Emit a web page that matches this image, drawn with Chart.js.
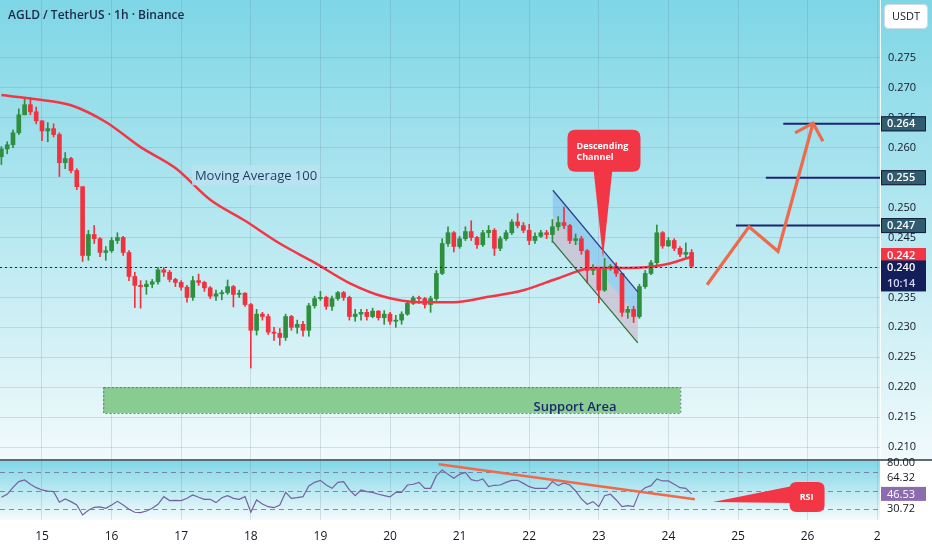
<!DOCTYPE html>
<html>
<head>
<meta charset="utf-8">
<script src="https://cdn.jsdelivr.net/npm/chart.js@4.4.1/dist/chart.umd.min.js"></script>
<style>
  html, body { margin: 0; padding: 0; background: #fff; }
  canvas { display: block; }
</style>
</head>
<body>
<canvas id="agldChart" width="932" height="550"></canvas>
<script>
// AGLD / USDT 1h, drawn as 2h candles
const firstCandleDay = 14 + 10 / 24;   // 14th, 10:00
const candleStep = 2 / 24;             // 2 hours
const firstOpen = 0.2585;

const closes = [
  0.2598,0.2605,0.2625,0.2655,0.2672,0.2660,0.2645,0.2628,0.2632,0.2622,
  0.2575,0.2582,0.2562,0.2535,0.2420,0.2455,0.2448,0.2425,0.2428,0.2445,
  0.2450,0.2425,0.2385,0.2370,0.2368,0.2372,0.2376,0.2396,0.2392,0.2380,
  0.2375,0.2367,0.2350,0.2378,0.2375,0.2366,0.2352,0.2356,0.2358,0.2368,
  0.2355,0.2357,0.2338,0.2295,0.2322,0.2318,0.2292,0.2290,0.2283,0.2318,
  0.2300,0.2305,0.2295,0.2336,0.2348,0.2350,0.2335,0.2348,0.2358,0.2350,
  0.2318,0.2322,0.2325,0.2318,0.2327,0.2316,0.2322,0.2310,0.2312,0.2322,
  0.2340,0.2349,0.2348,0.2338,0.2348,0.2390,0.2440,0.2458,0.2435,0.2448,
  0.2460,0.2450,0.2438,0.2458,0.2462,0.2432,0.2448,0.2458,0.2476,0.2470,
  0.2462,0.2445,0.2452,0.2458,0.2455,0.2468,0.2475,0.2470,0.2445,0.2448,
  0.2428,0.2395,0.2398,0.2362,0.2400,0.2402,0.2390,0.2325,0.2330,0.2318,
  0.2368,0.2390,0.2408,0.2458,0.2436,0.2445,0.2432,0.2422,0.2425,0.2402
];
const highs = [
  0.2602,0.2610,0.2630,0.2665,0.2683,0.2684,0.2668,0.2645,0.2642,0.2640,
  0.2625,0.2592,0.2584,0.2565,0.2535,0.2462,0.2470,0.2450,0.2435,0.2450,
  0.2458,0.2452,0.2428,0.2392,0.2378,0.2378,0.2380,0.2400,0.2400,0.2395,
  0.2382,0.2378,0.2370,0.2385,0.2389,0.2377,0.2368,0.2362,0.2362,0.2379,
  0.2370,0.2362,0.2358,0.2340,0.2330,0.2325,0.2322,0.2300,0.2298,0.2322,
  0.2320,0.2312,0.2310,0.2340,0.2352,0.2360,0.2352,0.2352,0.2360,0.2360,
  0.2352,0.2330,0.2330,0.2330,0.2332,0.2328,0.2328,0.2325,0.2320,0.2326,
  0.2345,0.2352,0.2352,0.2350,0.2352,0.2395,0.2448,0.2468,0.2460,0.2452,
  0.2468,0.2478,0.2452,0.2462,0.2470,0.2465,0.2452,0.2462,0.2480,0.2490,
  0.2475,0.2472,0.2458,0.2462,0.2462,0.2480,0.2485,0.2501,0.2472,0.2456,
  0.2452,0.2430,0.2405,0.2400,0.2415,0.2405,0.2408,0.2390,0.2335,0.2335,
  0.2372,0.2395,0.2412,0.2471,0.2460,0.2450,0.2448,0.2435,0.2441,0.2430
];
const lows = [
  0.2572,0.2590,0.2600,0.2622,0.2655,0.2655,0.2640,0.2612,0.2610,0.2618,
  0.2552,0.2565,0.2558,0.2530,0.2410,0.2412,0.2440,0.2418,0.2412,0.2425,
  0.2440,0.2420,0.2378,0.2333,0.2332,0.2355,0.2366,0.2372,0.2385,0.2376,
  0.2368,0.2362,0.2342,0.2345,0.2370,0.2360,0.2348,0.2345,0.2346,0.2355,
  0.2334,0.2350,0.2335,0.2232,0.2287,0.2312,0.2288,0.2278,0.2270,0.2278,
  0.2295,0.2290,0.2285,0.2285,0.2332,0.2345,0.2330,0.2328,0.2345,0.2345,
  0.2312,0.2310,0.2312,0.2312,0.2316,0.2312,0.2305,0.2305,0.2300,0.2305,
  0.2320,0.2338,0.2340,0.2332,0.2325,0.2345,0.2388,0.2435,0.2426,0.2432,
  0.2445,0.2445,0.2432,0.2435,0.2450,0.2420,0.2428,0.2445,0.2455,0.2466,
  0.2458,0.2438,0.2440,0.2450,0.2448,0.2442,0.2462,0.2465,0.2440,0.2438,
  0.2422,0.2374,0.2388,0.2341,0.2360,0.2395,0.2385,0.2318,0.2315,0.2308,
  0.2315,0.2365,0.2388,0.2400,0.2432,0.2435,0.2428,0.2418,0.2415,0.2400
];

// moving average 100
const maDays = [14.417,14.917,15.417,15.917,16.417,16.917,17.417,17.917,18.417,18.917,
  19.417,19.917,20.417,20.917,21.417,21.917,22.417,22.917,23.417,23.917,24.333];
const maValues = [0.2688,0.2681,0.2671,0.2643,0.2601,0.2566,0.2513,0.2478,0.2440,0.2408,
  0.2374,0.2351,0.2342,0.2342,0.2351,0.2362,0.2382,0.2399,0.2399,0.2404,0.2418];

// RSI, one value per candle
const rsiValues = [
  42.8,46.1,53.7,59.9,61.7,57.0,53.3,50.8,49.7,49.0,
  37.4,41.0,38.1,34.5,23.6,28.6,31.9,32.3,30.8,34.5,
  38.4,34.5,29.7,26.5,26.1,27.9,30.8,35.2,43.5,39.2,
  39.5,39.2,41.7,45.3,42.8,40.6,40.6,37.0,42.4,44.6,
  41.7,40.6,43.5,26.5,39.9,35.5,32.6,31.5,34.4,48.2,
  41.7,42.4,43.5,55.1,59.1,61.3,56.2,52.6,59.1,59.9,
  50.8,44.6,50.8,49.0,48.2,46.1,44.6,43.2,48.2,48.2,
  56.2,57.0,59.1,52.6,52.6,66.4,72.6,67.8,63.5,67.8,
  70.0,62.0,60.6,62.8,54.4,55.9,56.2,59.1,61.3,61.3,
  58.0,54.4,52.6,52.6,52.6,59.9,55.5,58.4,56.2,49.7,
  41.0,35.2,38.1,32.6,44.6,46.1,39.9,32.6,33.7,32.6,
  48.2,53.3,55.5,62.8,60.6,60.6,57.0,53.3,52.6,46.5
];
const rsiTrendDays = [20.70, 24.38];
const rsiTrendValues = [78.8, 40.6];
const rsiBands = [70, 50, 30];
const rsiAxisLabels = [80.00, 64.32, 46.53, 30.72];

// axes
const dayTicks = [15,16,17,18,19,20,21,22,23,24,25,26,27];
const dayTickLabels = ['15','16','17','18','19','20','21','22','23','24','25','26','2'];
const priceTicks = [0.210,0.215,0.220,0.225,0.230,0.235,0.240,0.245,0.250,0.255,0.260,0.265,0.270,0.275];
const lastPrice = 0.240;
const lastMa = 0.242;
const countdown = '10:14';

// drawings
const targetPrices = [0.264, 0.255, 0.247];
const targetStartDays = [25.65, 25.40, 24.97];
const projectionDays = [24.555, 25.158, 25.575, 26.078];
const projectionPrices = [0.2371, 0.2468, 0.2427, 0.2641];
const arrowHeadDays = [25.82, 26.22];
const arrowHeadPrices = [0.2625, 0.2611];
const channelDays = [22.34, 23.56];
const channelTop = [0.2529, 0.2359];
const channelBottom = [0.2443, 0.2274];
const supportDays = [15.88, 24.17];
const supportPrices = [0.2157, 0.2200];

const xMin = 14.3966, xMax = 27.04;
const yMin = 0.207828, yMax = 0.284687;
const rsiMin = 18.08, rsiMax = 83.44;

const GREEN = '#2e8f3e', RED = '#f2313f';
const FONT = "'Open Sans', 'DejaVu Sans', sans-serif";

const candleDays = closes.map((c, i) => firstCandleDay + i * candleStep);
const opens = closes.map((c, i) => i === 0 ? firstOpen : closes[i - 1]);
const candleColors = closes.map((c, i) => c >= opens[i] ? GREEN : RED);

function rr(ctx, x, y, w, h, r) {
  ctx.beginPath();
  ctx.moveTo(x + r, y);
  ctx.lineTo(x + w - r, y); ctx.quadraticCurveTo(x + w, y, x + w, y + r);
  ctx.lineTo(x + w, y + h - r); ctx.quadraticCurveTo(x + w, y + h, x + w - r, y + h);
  ctx.lineTo(x + r, y + h); ctx.quadraticCurveTo(x, y + h, x, y + h - r);
  ctx.lineTo(x, y + r); ctx.quadraticCurveTo(x, y, x + r, y);
  ctx.closePath();
}

function noPadding(s) {
  s.paddingTop = 0; s.paddingBottom = 0; s.paddingLeft = 0; s.paddingRight = 0;
}

// gradient panes
const backdrop = {
  id: 'backdrop',
  beforeDraw(chart) {
    const {ctx, width, height} = chart;
    const ys = chart.scales.y, yr = chart.scales.yRsi;
    ctx.save();
    ctx.fillStyle = '#ffffff';
    ctx.fillRect(0, 0, width, height);
    let g = ctx.createLinearGradient(0, ys.top, 0, ys.bottom);
    g.addColorStop(0, '#7ed6e6');
    g.addColorStop(0.55, '#bdeaf2');
    g.addColorStop(1, '#f1fafc');
    ctx.fillStyle = g;
    ctx.fillRect(0, ys.top, width, ys.bottom - ys.top);
    g = ctx.createLinearGradient(0, yr.top, 0, yr.bottom);
    g.addColorStop(0, '#7fd6e6');
    g.addColorStop(1, '#f4fbfd');
    ctx.fillStyle = g;
    ctx.fillRect(0, yr.top, chart.chartArea.right, yr.bottom - yr.top);
    ctx.restore();
  }
};

const drawings = {
  id: 'drawings',
  beforeDatasetsDraw(chart) {
    const {ctx} = chart;
    const px = v => chart.scales.x.getPixelForValue(v);
    const py = v => chart.scales.y.getPixelForValue(v);
    const pr = v => chart.scales.yRsi.getPixelForValue(v);
    ctx.save();
    // support area
    const sx0 = px(supportDays[0]), sx1 = px(supportDays[1]);
    const sy0 = py(supportPrices[1]), sy1 = py(supportPrices[0]);
    ctx.fillStyle = '#89cc91';
    ctx.fillRect(sx0, sy0, sx1 - sx0, sy1 - sy0);
    ctx.setLineDash([2, 2]);
    ctx.strokeStyle = '#3f8a4a';
    ctx.lineWidth = 1;
    ctx.strokeRect(sx0 + 0.5, sy0 + 0.5, sx1 - sx0, sy1 - sy0);
    ctx.setLineDash([]);
    // channel fills
    const cx0 = px(channelDays[0]), cx1 = px(channelDays[1]);
    const midA = (channelTop[0] + channelBottom[0]) / 2, midB = (channelTop[1] + channelBottom[1]) / 2;
    ctx.fillStyle = 'rgba(120,185,235,0.55)';
    ctx.beginPath();
    ctx.moveTo(cx0, py(channelTop[0])); ctx.lineTo(cx1, py(channelTop[1]));
    ctx.lineTo(cx1, py(midB)); ctx.lineTo(cx0, py(midA)); ctx.closePath(); ctx.fill();
    ctx.fillStyle = 'rgba(205,180,200,0.6)';
    ctx.beginPath();
    ctx.moveTo(cx0, py(midA)); ctx.lineTo(cx1, py(midB));
    ctx.lineTo(cx1, py(channelBottom[1])); ctx.lineTo(cx0, py(channelBottom[0])); ctx.closePath(); ctx.fill();
    // rsi bands
    ctx.setLineDash([5, 4]);
    ctx.strokeStyle = 'rgba(110,100,150,0.75)';
    for (const b of rsiBands) {
      const y = Math.round(pr(b)) + 0.5;
      ctx.beginPath(); ctx.moveTo(chart.chartArea.left, y); ctx.lineTo(chart.chartArea.right, y); ctx.stroke();
    }
    ctx.setLineDash([]);
    ctx.restore();
  },
  afterDatasetsDraw(chart) {
    const {ctx, chartArea} = chart;
    const px = v => chart.scales.x.getPixelForValue(v);
    const py = v => chart.scales.y.getPixelForValue(v);
    const pr = v => chart.scales.yRsi.getPixelForValue(v);
    ctx.save();
    // channel borders
    ctx.lineWidth = 1.2;
    ctx.strokeStyle = '#2b3a8c';
    ctx.beginPath(); ctx.moveTo(px(channelDays[0]), py(channelTop[0])); ctx.lineTo(px(channelDays[1]), py(channelTop[1])); ctx.stroke();
    ctx.strokeStyle = '#2e6e3a';
    ctx.beginPath(); ctx.moveTo(px(channelDays[0]), py(channelBottom[0])); ctx.lineTo(px(channelDays[1]), py(channelBottom[1])); ctx.stroke();

    // last price dotted line
    const yl = Math.round(py(lastPrice)) + 0.5;
    ctx.setLineDash([2, 3]);
    ctx.strokeStyle = '#1a2452';
    ctx.lineWidth = 1;
    ctx.beginPath(); ctx.moveTo(chartArea.left, yl); ctx.lineTo(chartArea.right, yl); ctx.stroke();
    ctx.setLineDash([]);

    // target lines
    ctx.strokeStyle = '#1c2470';
    ctx.lineWidth = 2;
    targetPrices.forEach((p, i) => {
      const y = py(p);
      ctx.beginPath(); ctx.moveTo(px(targetStartDays[i]), y); ctx.lineTo(chartArea.right, y); ctx.stroke();
    });

    // projection arrow
    ctx.strokeStyle = '#ee6a4c';
    ctx.lineWidth = 3.2;
    ctx.lineJoin = 'miter';
    ctx.beginPath();
    projectionDays.forEach((d, i) => i ? ctx.lineTo(px(d), py(projectionPrices[i])) : ctx.moveTo(px(d), py(projectionPrices[i])));
    ctx.stroke();
    const tipX = px(projectionDays[3]), tipY = py(projectionPrices[3]);
    ctx.beginPath();
    ctx.moveTo(px(arrowHeadDays[0]), py(arrowHeadPrices[0]));
    ctx.lineTo(tipX, tipY);
    ctx.lineTo(px(arrowHeadDays[1]), py(arrowHeadPrices[1]));
    ctx.stroke();

    // moving average label
    const mx = px(18.075), my = py(0.2554);
    ctx.fillStyle = 'rgba(188,226,240,0.85)';
    ctx.fillRect(mx - 64, my - 10, 128, 20);
    ctx.fillStyle = '#1f3a5e';
    ctx.font = '13px ' + FONT;
    ctx.textAlign = 'center'; ctx.textBaseline = 'middle';
    ctx.fillText('Moving Average 100', mx, my + 1);

    // support label
    ctx.fillStyle = '#1a2a6c';
    ctx.font = '600 13px ' + FONT;
    ctx.fillText('Support Area', px(22.658), py(0.21668));

    // descending channel callout
    const bx = px(23.067), by = py(0.2595);
    const tx = px(23.06), ty = py(0.2416);
    ctx.fillStyle = '#f23645';
    ctx.beginPath();
    ctx.moveTo(bx - 10, by + 18); ctx.lineTo(tx, ty); ctx.lineTo(bx + 9, by + 18); ctx.closePath(); ctx.fill();
    rr(ctx, bx - 36, by - 21, 73, 42, 8); ctx.fill();
    ctx.fillStyle = '#ffffff';
    ctx.font = 'bold 9px ' + FONT;
    ctx.textAlign = 'left';
    ctx.fillText('Descending', bx - 27, by - 4);
    ctx.fillText('Channel', bx - 27, by + 7);

    // rsi callout
    const rx = px(25.985), ry = pr(43.1);
    const rtx = px(24.64), rty = pr(37.7);
    ctx.fillStyle = '#f23645';
    ctx.beginPath();
    ctx.moveTo(rx - 14, ry - 11); ctx.lineTo(rtx, rty); ctx.lineTo(rx - 14, ry + 6); ctx.closePath(); ctx.fill();
    rr(ctx, rx - 17, ry - 15, 35, 30, 7); ctx.fill();
    ctx.fillStyle = '#ffffff';
    ctx.font = 'bold 9px ' + FONT;
    ctx.textAlign = 'center';
    ctx.fillText('RSI', rx, ry);
    ctx.restore();
  },
  afterDraw(chart) {
    const {ctx, chartArea, width} = chart;
    const py = v => chart.scales.y.getPixelForValue(v);
    const pr = v => chart.scales.yRsi.getPixelForValue(v);
    const ys = chart.scales.y, yr = chart.scales.yRsi;
    const ax = chartArea.right;
    ctx.save();
    // separators
    ctx.strokeStyle = 'rgba(255,255,255,0.9)';
    ctx.lineWidth = 1;
    ctx.beginPath(); ctx.moveTo(ax + 0.5, 0); ctx.lineTo(ax + 0.5, yr.bottom); ctx.stroke();
    ctx.strokeStyle = '#5b6b78';
    ctx.lineWidth = 2;
    ctx.beginPath(); ctx.moveTo(0, ys.bottom); ctx.lineTo(width, ys.bottom); ctx.stroke();

    ctx.textAlign = 'left'; ctx.textBaseline = 'middle';
    const box = (y, h, fill, stroke, color, text, weight) => {
      ctx.fillStyle = fill;
      ctx.fillRect(ax + 1, y - h / 2, 45, h);
      if (stroke) { ctx.strokeStyle = stroke; ctx.lineWidth = 1; ctx.strokeRect(ax + 1.5, y - h / 2 + 0.5, 44, h - 1); }
      ctx.fillStyle = color;
      ctx.font = (weight || '') + ' 11px ' + FONT;
      ctx.fillText(text, ax + 7, y + 0.5);
    };
    targetPrices.forEach(p => box(py(p), 15, '#2f5d6f', '#14203f', '#ffffff', p.toFixed(3), '600'));
    box(py(lastMa), 15, '#f23645', null, '#ffffff', lastMa.toFixed(3), '600');
    // last price with countdown
    const yl = py(lastPrice);
    ctx.fillStyle = '#141e5a';
    ctx.fillRect(ax + 1, yl - 7, 45, 31);
    ctx.fillStyle = '#ffffff';
    ctx.font = '600 11px ' + FONT;
    ctx.fillText(lastPrice.toFixed(3), ax + 7, yl + 0.5);
    ctx.fillStyle = '#d6dbef';
    ctx.fillText(countdown, ax + 7, yl + 16);

    // rsi axis labels
    ctx.fillStyle = '#131722';
    ctx.font = '11px ' + FONT;
    ctx.fillText(rsiAxisLabels[0].toFixed(2), ax + 7, pr(rsiAxisLabels[0]));
    box(pr(rsiAxisLabels[1]), 14, '#ffffff', null, '#131722', rsiAxisLabels[1].toFixed(2));
    box(pr(rsiAxisLabels[2]), 14, '#8c6cb0', null, '#ffffff', rsiAxisLabels[2].toFixed(2));
    box(pr(rsiAxisLabels[3]), 14, '#ffffff', null, '#131722', rsiAxisLabels[3].toFixed(2));

    // currency tag
    ctx.fillStyle = '#ffffff';
    rr(ctx, ax + 4.5, 4.5, 43, 24, 4); ctx.fill();
    ctx.strokeStyle = '#d0dde2'; ctx.lineWidth = 1; ctx.stroke();
    ctx.fillStyle = '#131722';
    ctx.textAlign = 'center';
    ctx.font = '11px ' + FONT;
    ctx.fillText('USDT', ax + 26, 17);

    // title
    ctx.textAlign = 'left';
    ctx.fillStyle = '#1b2a48';
    ctx.font = '600 12px ' + FONT;
    ctx.fillText('AGLD / TetherUS · 1h · Binance', 8, 16);
    ctx.restore();
  }
};

const gridColor = 'rgba(95,120,135,0.2)';
const ctx = document.getElementById('agldChart').getContext('2d');
new Chart(ctx, {
  type: 'bar',
  data: {
    datasets: [{
      label: 'wicks',
      data: candleDays.map((d, i) => ({x: d, y: [lows[i], highs[i]]})),
      backgroundColor: candleColors,
      barThickness: 1,
      grouped: false,
      yAxisID: 'y',
      order: 3
    }, {
      label: 'bodies',
      data: candleDays.map((d, i) => ({x: d, y: [opens[i], closes[i]]})),
      backgroundColor: candleColors,
      barThickness: 4,
      minBarLength: 1,
      grouped: false,
      yAxisID: 'y',
      order: 2
    }, {
      type: 'line',
      label: 'MA 100',
      data: maDays.map((d, i) => ({x: d, y: maValues[i]})),
      borderColor: '#f23645',
      borderWidth: 2.5,
      pointRadius: 0,
      cubicInterpolationMode: 'monotone',
      yAxisID: 'y',
      order: 1
    }, {
      type: 'line',
      label: 'RSI',
      data: candleDays.map((d, i) => ({x: d, y: rsiValues[i]})),
      borderColor: '#74609f',
      borderWidth: 1.2,
      pointRadius: 0,
      yAxisID: 'yRsi',
      order: 1
    }, {
      type: 'line',
      label: 'RSI trend',
      data: rsiTrendDays.map((d, i) => ({x: d, y: rsiTrendValues[i]})),
      borderColor: '#ee6a4c',
      borderWidth: 2.5,
      pointRadius: 0,
      yAxisID: 'yRsi',
      order: 0
    }]
  },
  options: {
    responsive: false,
    animation: false,
    devicePixelRatio: 1,
    layout: { padding: 0 },
    plugins: { legend: { display: false }, tooltip: { enabled: false } },
    scales: {
      x: {
        type: 'linear', min: xMin, max: xMax, position: 'bottom', offset: false,
        grid: { color: gridColor, drawTicks: false, offset: false },
        border: { display: false },
        ticks: {
          padding: 9, color: '#131722', font: { size: 12, family: FONT },
          maxRotation: 0, autoSkip: false,
          callback: (v) => dayTickLabels[dayTicks.indexOf(v)]
        },
        afterBuildTicks: s => { s.ticks = dayTicks.map(v => ({value: v})); },
        afterFit: s => { s.height = 30; noPadding(s); }
      },
      y: {
        type: 'linear', position: 'right', stack: 'panes', stackWeight: 46,
        min: yMin, max: yMax,
        grid: { color: gridColor, drawTicks: false },
        border: { display: false },
        ticks: {
          padding: 8, color: '#131722', font: { size: 11, family: FONT },
          callback: v => v.toFixed(3)
        },
        afterBuildTicks: s => { s.ticks = priceTicks.map(v => ({value: v})); },
        afterFit: s => { s.width = 52; noPadding(s); }
      },
      yRsi: {
        type: 'linear', position: 'right', stack: 'panes', stackWeight: 6,
        min: rsiMin, max: rsiMax,
        grid: { display: false },
        border: { display: false },
        ticks: { display: false },
        afterFit: s => { s.width = 52; noPadding(s); }
      }
    }
  },
  plugins: [backdrop, drawings]
});
</script>
</body>
</html>
